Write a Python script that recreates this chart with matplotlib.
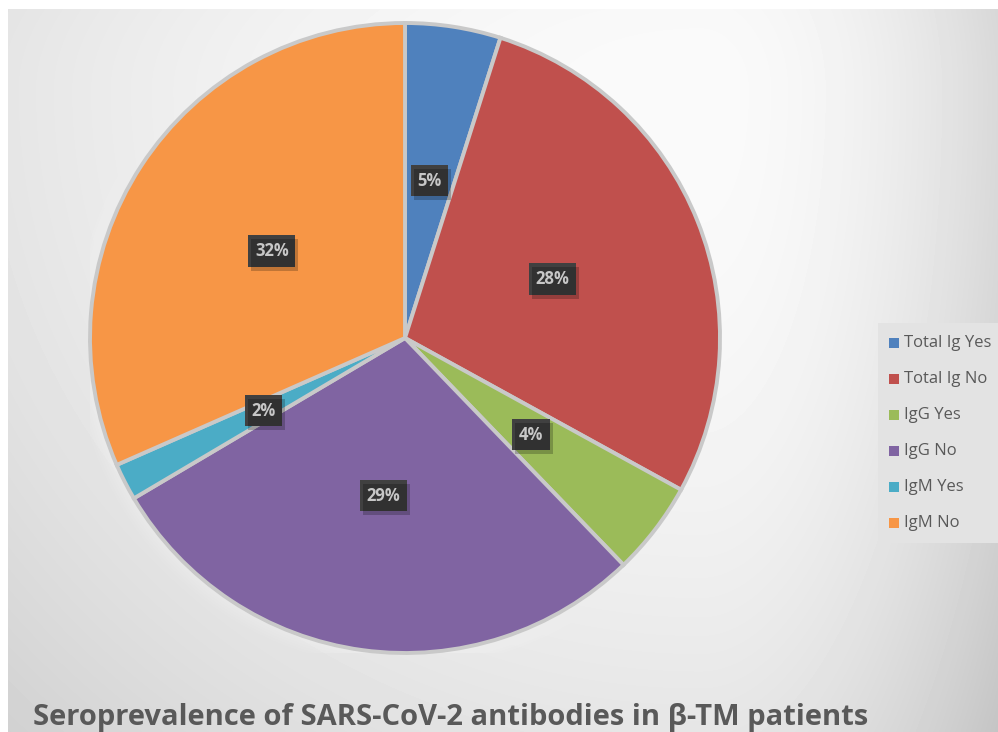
import numpy as np
import matplotlib
matplotlib.use("Agg")
import matplotlib.pyplot as plt
from matplotlib.patches import Rectangle

# -----------------------------------------------------------------------------
# Data
# -----------------------------------------------------------------------------
categories = ["Total Ig Yes", "Total Ig No", "IgG Yes", "IgG No", "IgM Yes", "IgM No"]
shares = [4.9, 28.1, 4.8, 28.7, 1.9, 31.6]
share_labels = ["5%", "28%", "4%", "29%", "2%", "32%"]
colors = ["#4f81bd", "#c0504d", "#9bbb59", "#8064a2", "#4bacc6", "#f79646"]
title = "Seroprevalence of SARS-CoV-2 antibodies in \u03b2-TM patients"

W, H = 998, 732
fig = plt.figure(figsize=(W / 100, H / 100), dpi=100)
fig.patch.set_facecolor("white")

# -----------------------------------------------------------------------------
# Background gradient (chart area starts a few pixels in from top/left)
# -----------------------------------------------------------------------------
bg = fig.add_axes([8 / W, 0, 1 - 8 / W, 1 - 9 / H], zorder=0)
xx, yy = np.meshgrid(np.arange(8, W), np.arange(9, H))
cx, cy = 700, 90
dx = xx - cx
dy = yy - cy
ux = np.where(dx < 0, -dx / (cx - 8), dx / (W - cx))
uy = np.where(dy < 0, -dy / 300.0, dy / 640.0)
wx = np.where(dx < 0, 0.08, 0.13)
val = 0.98 - wx * ux ** 2 - 0.08 * uy ** 2
bg.imshow(val, cmap="gray", vmin=0, vmax=1, aspect="auto", interpolation="bilinear")
bg.axis("off")

# -----------------------------------------------------------------------------
# Pie
# -----------------------------------------------------------------------------
R = 315
ax = fig.add_axes([(405 - R) / W, (H - 338 - R) / H, 2 * R / W, 2 * R / H], zorder=2)
ax.patch.set_alpha(0)

# soft glow around the pie
for k in range(6):
    ax.add_patch(plt.Circle((0, 0), 1.0 + 0.008 * (k + 1), color="white",
                            alpha=0.05, lw=0, zorder=0))

wedges, _ = ax.pie(shares, colors=colors, startangle=90, counterclock=False,
                   radius=1.0, wedgeprops=dict(edgecolor="#c9c9c9", linewidth=2.8))

ax.set_xlim(-1, 1)
ax.set_ylim(-1, 1)
ax.axis("off")

label_texts = []
for w, lab in zip(wedges, share_labels):
    mid = np.deg2rad((w.theta1 + w.theta2) / 2)
    x, y = 0.505 * np.cos(mid), 0.505 * np.sin(mid)
    t = ax.text(x, y, lab, ha="center", va="center", fontsize=12, fontweight="bold",
                family="Open Sans", color="white", zorder=5,
                bbox=dict(boxstyle="square,pad=0.4", fc="#404040", ec="none"))
    label_texts.append(t)

# drop shadows under the label boxes
fig.canvas.draw()
renderer = fig.canvas.get_renderer()
for t in label_texts:
    bb = t.get_bbox_patch().get_window_extent(renderer)
    x0, y0 = bb.x0 + 3, bb.y0 - 4
    fig.patches.append(Rectangle((x0 / W, y0 / H), bb.width / W, bb.height / H,
                                 transform=fig.transFigure, fc="black", ec="none",
                                 alpha=0.22, zorder=2.5))

# -----------------------------------------------------------------------------
# Legend
# -----------------------------------------------------------------------------
fig.patches.append(Rectangle((878 / W, (H - 543) / H), (W - 878) / W, 220 / H,
                             transform=fig.transFigure, fc="#e3e3e3", ec="none",
                             zorder=1))
for i, (name, c) in enumerate(zip(categories, colors)):
    yc = 343 + 36 * i
    fig.patches.append(Rectangle((889 / W, (H - yc - 5) / H), 10 / W, 10 / H,
                                 transform=fig.transFigure, fc=c, ec="none", zorder=3))
    fig.text(904 / W, (H - yc) / H, name, ha="left", va="center", fontsize=12,
             family="Open Sans", color="#595959", zorder=3)

# -----------------------------------------------------------------------------
# Title
# -----------------------------------------------------------------------------
fig.text(33 / W, (H - 718) / H, title, ha="left", va="center", fontsize=21,
         fontweight="bold", family="Open Sans", color="#595959", zorder=3)

fig.savefig("out.png", dpi=100)
